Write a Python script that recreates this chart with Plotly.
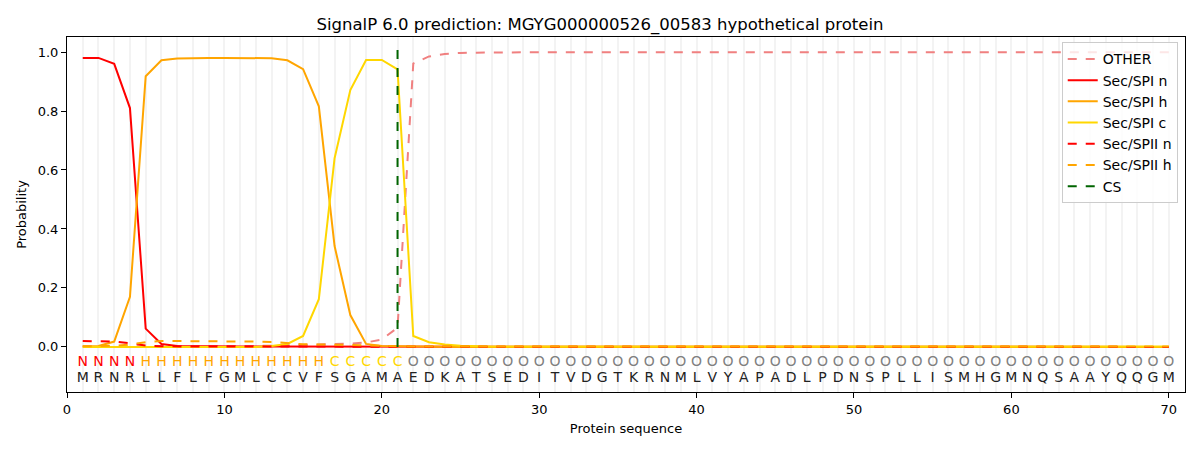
import plotly.graph_objects as go

# residue positions and sequence
positions = list(range(1, 71))
sequence = list("MRNRLLFLFGMLCCVFSGAMAEDKATSEDITVDGTKRNMLVYAPADLPDNSPLLISMHGMNQSAAYQQGM")
region_labels = list("NNNN" + "H" * 12 + "C" * 5 + "O" * 49)

# per-residue probabilities
other = [0.001, 0.001, 0.002, 0.002, 0.002, 0.002, 0.002, 0.002, 0.002, 0.002,
         0.003, 0.003, 0.004, 0.006, 0.008, 0.009, 0.010, 0.011, 0.015, 0.025,
         0.065, 0.961, 0.985, 0.993, 0.997, 0.998] + [0.999] * 44
sec_spi_n = [0.980, 0.980, 0.960, 0.810, 0.062, 0.010, 0.003, 0.002, 0.001, 0.001,
             0.001, 0.001, 0.001, 0.001, 0.001, 0.001, 0.001, 0.001, 0.001, 0.001] + [0.0] * 50
sec_spi_h = [0.002, 0.003, 0.018, 0.170, 0.918, 0.972, 0.978, 0.980, 0.980, 0.980,
             0.980, 0.980, 0.979, 0.972, 0.942, 0.816, 0.342, 0.108, 0.010, 0.003,
             0.002, 0.001, 0.001] + [0.0] * 47
sec_spi_c = [0.0] * 12 + [0.003, 0.010, 0.037, 0.162, 0.640, 0.871, 0.973, 0.973,
                          0.941, 0.037, 0.016, 0.008, 0.004, 0.002] + [0.001] * 44
sec_spii_n = [0.020, 0.020, 0.018, 0.012, 0.005, 0.002] + [0.001] * 14 + [0.0] * 50
sec_spii_h = [0.002, 0.002, 0.004, 0.008, 0.016, 0.020, 0.020, 0.020, 0.020, 0.019,
              0.019, 0.018, 0.017, 0.013, 0.009, 0.008, 0.008, 0.007, 0.005, 0.003,
              0.002] + [0.001] * 49
cs_pos = 21

label_colors = {"N": "red", "H": "orange", "C": "gold", "O": "gray"}

fig = go.Figure()

series = [
    ("OTHER", other, "lightcoral", "dash"),
    ("Sec/SPI n", sec_spi_n, "red", "solid"),
    ("Sec/SPI h", sec_spi_h, "orange", "solid"),
    ("Sec/SPI c", sec_spi_c, "gold", "solid"),
    ("Sec/SPII n", sec_spii_n, "red", "dash"),
    ("Sec/SPII h", sec_spii_h, "orange", "dash"),
]
for name, vals, color, dash in series:
    fig.add_trace(go.Scatter(
        x=positions, y=vals, mode="lines", name=name,
        line=dict(color=color, width=2, dash=dash),
    ))

fig.add_trace(go.Scatter(
    x=[cs_pos, cs_pos], y=[0, 1.035], mode="lines", name="CS",
    line=dict(color="darkgreen", width=2, dash="dash"),
))

# region letters and amino acids under the curves
fig.add_trace(go.Scatter(
    x=positions, y=[-0.053] * len(positions), mode="text", text=region_labels,
    textfont=dict(size=14, color=[label_colors[c] for c in region_labels]),
    showlegend=False, hoverinfo="skip",
))
fig.add_trace(go.Scatter(
    x=positions, y=[-0.108] * len(positions), mode="text", text=sequence,
    textfont=dict(size=14, color="#222222"),
    showlegend=False, hoverinfo="skip",
))

fig.update_layout(
    width=1200,
    height=450,
    plot_bgcolor="white",
    paper_bgcolor="white",
    font=dict(family="DejaVu Sans", size=13, color="black"),
    margin=dict(l=67, r=15, t=37, b=58),
    title=dict(
        text="SignalP 6.0 prediction: MGYG000000526_00583 hypothetical protein",
        x=0.5, xanchor="center", y=0.947, yanchor="middle",
        font=dict(size=16.5),
    ),
    legend=dict(
        x=0.9935, y=0.985, xanchor="right", yanchor="top",
        bgcolor="rgba(255,255,255,0.8)", bordercolor="#cccccc", borderwidth=1,
        font=dict(size=14), tracegroupgap=0,
    ),
    showlegend=True,
)
fig.update_xaxes(
    range=[0, 71.03], tickmode="array", tickvals=list(range(0, 71, 10)),
    showgrid=False, zeroline=False, automargin=False,
    showline=True, linecolor="black", linewidth=1, mirror=True,
    ticks="outside", ticklen=5, tickcolor="black", tickfont=dict(size=13),
    minor=dict(dtick=1, tick0=0, showgrid=True, gridcolor="#f3f3f3", gridwidth=2, ticks=""),
    title=dict(text="Protein sequence", font=dict(size=13), standoff=8),
)
fig.update_yaxes(
    range=[-0.153, 1.051], tickmode="array", tickvals=[0, 0.2, 0.4, 0.6, 0.8, 1.0],
    tickformat=".1f", showgrid=False, zeroline=False, automargin=False,
    showline=True, linecolor="black", linewidth=1, mirror=True,
    ticks="outside", ticklen=5, tickcolor="black", tickfont=dict(size=13),
    title=dict(text="Probability", font=dict(size=13), standoff=8),
)

fig.write_html(
    "out.html",
    config={"displayModeBar": False},
    post_script="document.body.style.margin='0px';",
)
